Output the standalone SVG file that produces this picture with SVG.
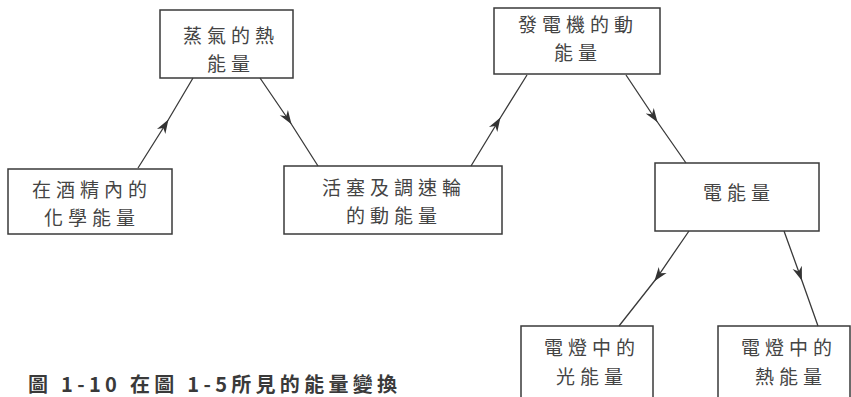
<svg xmlns="http://www.w3.org/2000/svg" width="851" height="397" viewBox="0 0 851 397">
<style>
.box{fill:none;stroke:#3a3a3a;stroke-width:1.5}
.t{font-family:"Noto Sans CJK TC","Noto Sans CJK SC",sans-serif;font-size:19px;fill:#444;text-anchor:middle;letter-spacing:5px}
.e{fill:none;stroke:#3a3a3a;stroke-width:1.3;marker-mid:url(#ah)}
.cap{font-family:"Noto Sans CJK TC","Noto Sans CJK SC",sans-serif;font-size:20px;font-weight:bold;fill:#3a3a3a}
</style>
<defs>
<marker id="ah" viewBox="0 0 10 10" refX="8" refY="5" markerWidth="14" markerHeight="14" markerUnits="userSpaceOnUse" orient="auto">
<path d="M0,1.5 L10,5 L0,8.5 L3,5 z" fill="#333"/>
</marker>
</defs>
<rect width="851" height="397" fill="#fff"/>
<g id="connectors">
<polyline class="e" points="138,168 167,122 193,78"/>
<polyline class="e" points="260,78 290,122 318,166"/>
<polyline class="e" points="471,166 499,120 527,75"/>
<polyline class="e" points="626,75 656,120 686,163"/>
<polyline class="e" points="689,231 656,279 619,326"/>
<polyline class="e" points="784,231 801,278 818,326"/>
</g>
<g id="n1"><rect class="box" x="160" y="10" width="133" height="68"/>
<text class="t" x="231" y="43">蒸氣的熱</text><text class="t" x="231" y="71">能量</text></g>
<g id="n2"><rect class="box" x="8" y="169" width="164" height="65"/>
<text class="t" x="92" y="197">在酒精內的</text><text class="t" x="92" y="225">化學能量</text></g>
<g id="n3"><rect class="box" x="284" y="166" width="218" height="68"/>
<text class="t" x="394" y="195">活塞及調速輪</text><text class="t" x="394" y="223">的動能量</text></g>
<g id="n4"><rect class="box" x="494" y="8" width="166" height="66"/>
<text class="t" x="578" y="32">發電機的動</text><text class="t" x="578" y="60">能量</text></g>
<g id="n5"><rect class="box" x="655" y="163" width="164" height="68"/>
<text class="t" x="739" y="200">電能量</text></g>
<g id="n6"><rect class="box" x="521" y="326" width="132" height="72"/>
<text class="t" x="592" y="355">電燈中的</text><text class="t" x="592" y="384">光能量</text></g>
<g id="n7"><rect class="box" x="718" y="326" width="132" height="72"/>
<text class="t" x="789" y="355">電燈中的</text><text class="t" x="791" y="384">熱能量</text></g>
<text class="cap" x="28" y="392" textLength="369" lengthAdjust="spacing">圖 1-10 在圖 1-5所見的能量變換</text>
</svg>
